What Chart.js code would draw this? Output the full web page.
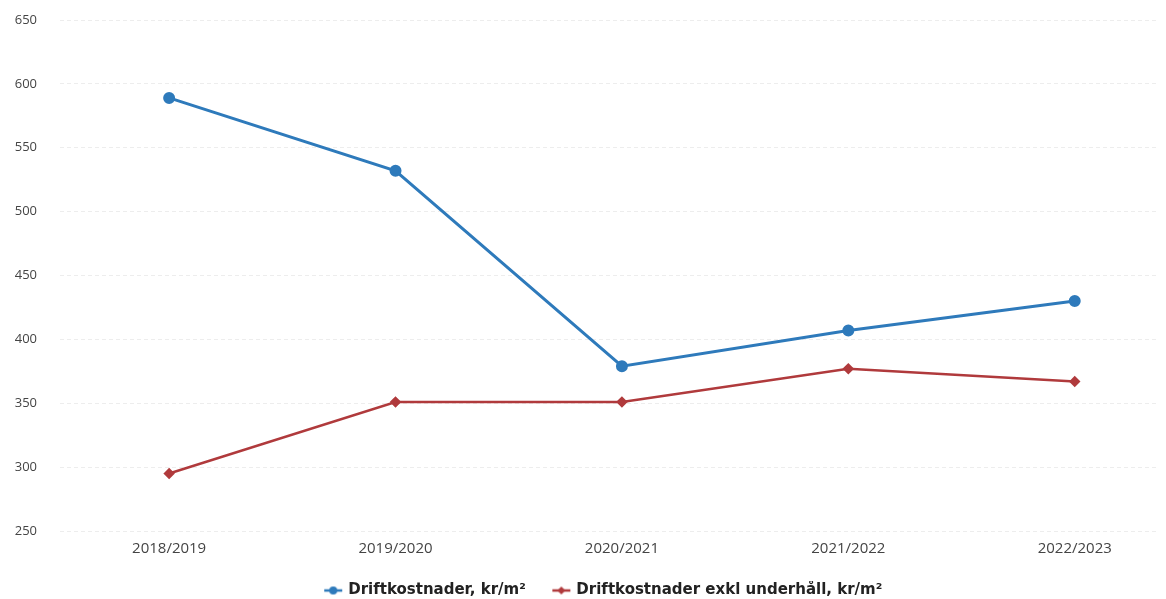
<!DOCTYPE html>
<html>
<head>
<meta charset="utf-8">
<script src="https://cdn.jsdelivr.net/npm/chart.js@4"></script>
<style>
  html, body { margin: 0; padding: 0; background: #fff; }
  #wrap { width: 1166px; height: 599px; position: relative; }
</style>
</head>
<body>
<div id="wrap"><canvas id="costChart"></canvas></div>
<script>
// data
const years = ['2018/2019', '2019/2020', '2020/2021', '2021/2022', '2022/2023'];
const driftkostnader = [589, 532, 379, 407, 430];
const exklUnderhall = [295, 351, 351, 377, 367];
const yTicks = [250, 300, 350, 400, 450, 500, 550, 600, 650];

(function () {
    const ctx = document.getElementById('costChart');
    const toPoints = arr => arr.map((v, i) => ({ x: i, y: v }));

    // small legend marker: short line with the point in the middle
    function marker(color, diamond) {
        const c = document.createElement('canvas');
        c.width = 20; c.height = 10;
        const g = c.getContext('2d');
        g.strokeStyle = color; g.fillStyle = color; g.lineWidth = 2.5;
        g.beginPath(); g.moveTo(1, 5); g.lineTo(19, 5); g.stroke();
        g.beginPath();
        if (diamond) {
            g.moveTo(10, 1); g.lineTo(14, 5); g.lineTo(10, 9); g.lineTo(6, 5);
        } else {
            g.arc(10, 5, 4, 0, Math.PI * 2);
        }
        g.fill();
        return c;
    }

    // plot starts higher, legend sits a bit right of centre and lower in the original
    const layoutTweak = {
        id: 'layoutTweak',
        afterLayout(chart) {
            const y = chart.scales.y;
            y.top = 20;
            y.height = y.bottom - y.top;
            y.configure();
            chart.chartArea.top = 20;
            chart.chartArea.height = chart.chartArea.bottom - 20;

            const lg = chart.legend;
            lg.left += 48;
            lg.top += 9;
            lg.bottom += 9;
        }
    };

    const blue = '#2e7abb';
    const red = '#b03a3c';

    new Chart(ctx, {
        type: 'line',
        data: {
            datasets: [
                {
                    label: 'Driftkostnader, kr/m²',
                    data: toPoints(driftkostnader),
                    borderColor: blue,
                    backgroundColor: blue,
                    borderWidth: 3,
                    pointStyle: 'circle',
                    pointRadius: 4.5,
                    tension: 0
                },
                {
                    label: 'Driftkostnader exkl underhåll, kr/m²',
                    data: toPoints(exklUnderhall),
                    borderColor: red,
                    backgroundColor: red,
                    borderWidth: 2.5,
                    pointStyle: 'rectRot',
                    pointRadius: 4,
                    tension: 0
                }
            ]
        },
        plugins: [layoutTweak],
        options: {
            responsive: true,
            maintainAspectRatio: false,
            animation: false,
            layout: { padding: { top: 0, right: 6, left: 0, bottom: 0 } },
            plugins: {
                legend: {
                    position: 'bottom',
                    labels: {
                        usePointStyle: true,
                        padding: 2,
                        color: '#222',
                        font: { family: 'DejaVu Sans', size: 15, weight: 'bold' },
                        generateLabels: chart => chart.data.datasets.map((ds, i) => ({
                            text: i === 0 ? ds.label + '     ' : ds.label,
                            pointStyle: marker(ds.borderColor, i === 1),
                            fillStyle: ds.borderColor,
                            strokeStyle: ds.borderColor,
                            lineWidth: 0,
                            fontColor: '#222',
                            datasetIndex: i
                        }))
                    }
                },
                tooltip: { enabled: false }
            },
            scales: {
                x: {
                    type: 'linear',
                    min: -0.482,
                    max: 4.37,
                    afterBuildTicks: axis => { axis.ticks = years.map((_, i) => ({ value: i })); },
                    afterFit: axis => { axis.height = 41; },
                    ticks: {
                        callback: v => years[v],
                        color: '#444',
                        padding: 1,
                        maxRotation: 0,
                        font: { family: 'Open Sans', size: 15 }
                    },
                    grid: { display: false },
                    border: { display: false }
                },
                y: {
                    min: 250,
                    max: 650,
                    afterBuildTicks: axis => { axis.ticks = yTicks.map(v => ({ value: v })); },
                    afterFit: axis => { axis.width = 60; },
                    ticks: {
                        color: '#444',
                        padding: 23,
                        font: { family: 'Open Sans', size: 13 }
                    },
                    grid: { color: 'rgba(0,0,0,0.07)', drawTicks: false },
                    border: { display: false, dash: [4, 3] }
                }
            }
        }
    });
})();
</script>
</body>
</html>
